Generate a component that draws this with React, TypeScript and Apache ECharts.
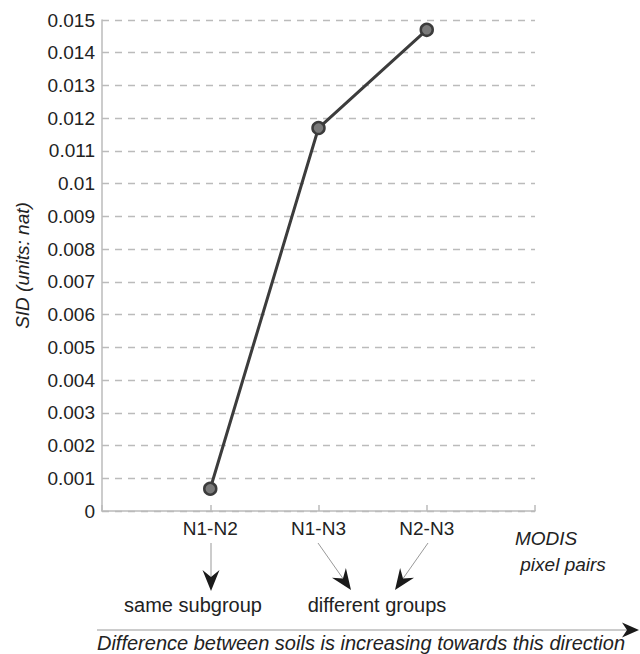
import React, { useEffect, useRef } from "react";
import * as echarts from "echarts";

const categories = ["", "N1-N2", "N1-N3", "N2-N3", ""];
const sidValues: (number | null)[] = [null, 0.00068, 0.0117, 0.0147, null];
const yMin = 0;
const yMax = 0.015;
const yInterval = 0.001;
const yAxisName = "SID (units: nat)";
const pairLabelLines = ["MODIS", " pixel pairs"];
const groupLabels = ["same subgroup", "different groups"];
const directionLabel = "Difference between soils is increasing towards this direction";

const FONT = "'Liberation Sans', Arial, Helvetica, sans-serif";
const TEXT = "#222";

function arrow(x1: number, y1: number, x2: number, y2: number, len: number, half: number, notch: number, lineColor: string, lineWidth: number) {
  const dx = x2 - x1;
  const dy = y2 - y1;
  const d = Math.sqrt(dx * dx + dy * dy);
  const ux = dx / d;
  const uy = dy / d;
  const px = -uy;
  const py = ux;
  const bx = x2 - ux * len;
  const by = y2 - uy * len;
  const nx = x2 - ux * (len - notch);
  const ny = y2 - uy * (len - notch);
  return [
    {
      type: "line",
      shape: { x1, y1, x2: nx, y2: ny },
      style: { stroke: lineColor, lineWidth },
      silent: true,
    },
    {
      type: "polygon",
      shape: {
        points: [
          [x2, y2],
          [bx + px * half, by + py * half],
          [nx, ny],
          [bx - px * half, by - py * half],
        ],
      },
      style: { fill: "#1a1a1a" },
      silent: true,
    },
  ];
}

export default function App() {
  const ref = useRef<HTMLDivElement>(null);
  useEffect(() => {
    if (!ref.current) return;
    const chart = echarts.init(ref.current, null, { renderer: "svg" });
    const graphics: any[] = [
      ...arrow(211, 543, 211, 591, 21, 8.5, 7, "#999", 1),
      ...arrow(318, 543, 351, 590, 21, 8.5, 7, "#999", 1),
      ...arrow(428, 543, 395, 590, 21, 8.5, 7, "#999", 1),
      ...arrow(97, 630, 639, 630, 17, 7.5, 5, "#bbb", 1.5),
      {
        type: "text",
        x: 193,
        y: 605,
        style: { text: groupLabels[0], font: `20px ${FONT}`, fill: TEXT, textAlign: "center", textVerticalAlign: "middle" },
      },
      {
        type: "text",
        x: 377,
        y: 605,
        style: { text: groupLabels[1], font: `20px ${FONT}`, fill: TEXT, textAlign: "center", textVerticalAlign: "middle" },
      },
      {
        type: "text",
        x: 515,
        y: 538,
        style: { text: pairLabelLines[0], font: `italic 19px ${FONT}`, fill: TEXT, textAlign: "left", textVerticalAlign: "middle" },
      },
      {
        type: "text",
        x: 515,
        y: 564,
        style: { text: pairLabelLines[1], font: `italic 19px ${FONT}`, fill: TEXT, textAlign: "left", textVerticalAlign: "middle" },
      },
      {
        type: "text",
        x: 361,
        y: 643,
        style: { text: directionLabel, font: `italic 20px ${FONT}`, fill: TEXT, textAlign: "center", textVerticalAlign: "middle" },
      },
    ];
    chart.setOption({
      animation: false,
      backgroundColor: "#fff",
      grid: { left: 102, top: 20, right: 105, bottom: 143, containLabel: false },
      xAxis: {
        type: "category",
        data: categories,
        boundaryGap: false,
        axisLine: { lineStyle: { color: "#bbb", width: 1.5 } },
        axisTick: { show: true, inside: true, length: 6, lineStyle: { color: "#bbb", width: 1.5 } },
        axisLabel: { color: TEXT, fontSize: 19, fontFamily: FONT, margin: 8 },
        splitLine: { show: false },
      },
      yAxis: {
        type: "value",
        min: yMin,
        max: yMax,
        interval: yInterval,
        name: yAxisName,
        nameLocation: "middle",
        nameGap: 70,
        nameTextStyle: { color: TEXT, fontSize: 19, fontFamily: FONT, fontStyle: "italic" },
        axisLine: { show: true, lineStyle: { color: "#bbb", width: 1.5 } },
        axisTick: { show: false },
        axisLabel: {
          color: TEXT,
          fontSize: 19,
          fontFamily: FONT,
          margin: 7,
          formatter: (v: number) => String(parseFloat(v.toFixed(3))),
        },
        splitLine: { show: true, lineStyle: { color: "#bbb", width: 1.3, type: [7, 6] } },
      },
      series: [
        {
          type: "line",
          data: sidValues,
          connectNulls: false,
          lineStyle: { color: "#3c3c3c", width: 3 },
          symbol: "circle",
          symbolSize: 12,
          itemStyle: { color: "#7a7a7a", borderColor: "#3c3c3c", borderWidth: 2.5 },
          z: 5,
        },
      ],
      graphic: graphics,
    });
    return () => chart.dispose();
  }, []);
  return <div ref={ref} style={{ position: "fixed", left: 0, top: 0, width: 640, height: 654 }} />;
}
